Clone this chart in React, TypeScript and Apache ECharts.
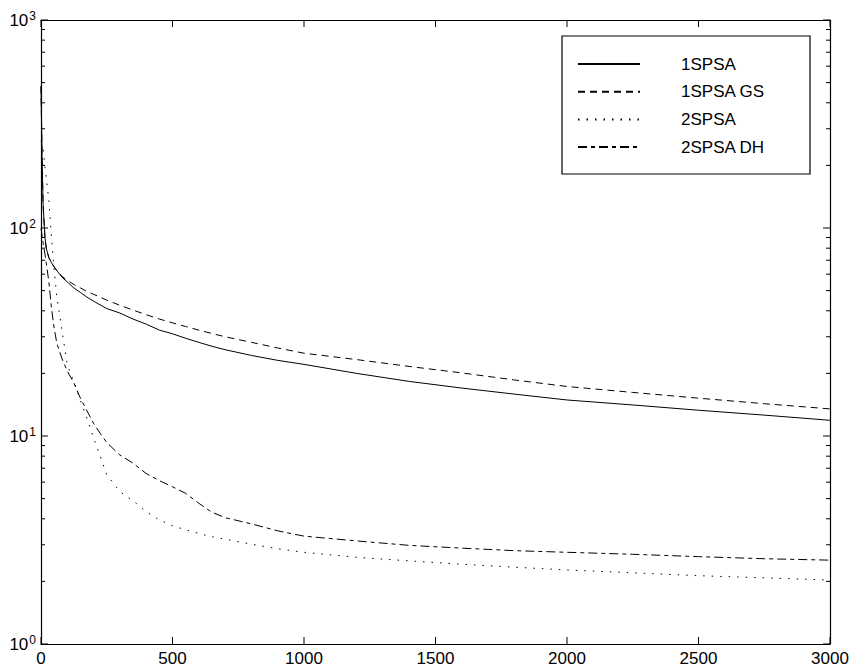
import React, { useEffect, useRef } from "react";
import * as echarts from "echarts";

const iterations = [0, 4, 8, 15, 20, 30, 40, 50, 60, 80, 100, 125, 150, 175, 200, 225, 250, 300, 350, 400, 450, 500, 550, 600, 650, 700, 800, 900, 1000, 1200, 1400, 1600, 1800, 2000, 2250, 2500, 2750, 3000];

const spsa1 = [480, 220, 130, 90, 80, 72, 68, 65, 62.5, 58, 55, 51.5, 49, 46.5, 44.5, 42.7, 41, 39, 36.5, 34.5, 32.3, 31.0, 29.5, 28.2, 27.0, 26.0, 24.4, 23.1, 22.1, 20.0, 18.3, 17.0, 15.9, 14.9, 14.1, 13.3, 12.6, 11.9];

const spsa1GS = [480, 220, 130, 90, 80, 72, 68, 65, 62.5, 58.5, 56, 53.5, 51.5, 49.5, 48, 46.5, 45, 42.5, 40.3, 38.3, 36.5, 35, 33.6, 32.3, 31.1, 30.0, 28.2, 26.5, 25.0, 23.3, 21.6, 20.1, 18.6, 17.3, 16.2, 15.2, 14.3, 13.5];

const spsa2 = [260, 255, 243, 196, 175, 135, 90, 63, 47, 32, 22, 18.2, 14.8, 12.1, 9.8, 8.0, 6.5, 5.4, 4.88, 4.33, 3.95, 3.7, 3.54, 3.4, 3.28, 3.19, 3.02, 2.87, 2.76, 2.61, 2.51, 2.42, 2.34, 2.27, 2.2, 2.13, 2.08, 2.03];

const spsa2DH = [100, 92, 85, 75, 68, 55, 41, 33, 28, 23.5, 20.5, 18, 15.2, 13.2, 11.5, 10.3, 9.3, 8.1, 7.4, 6.6, 6.1, 5.7, 5.3, 4.75, 4.3, 4.05, 3.78, 3.5, 3.3, 3.13, 2.98, 2.89, 2.81, 2.76, 2.7, 2.63, 2.57, 2.53];

const seriesNames = ["1SPSA", "1SPSA GS", "2SPSA", "2SPSA DH"];
const seriesValues = [spsa1, spsa1GS, spsa2, spsa2DH];
const seriesDash: (string | number[])[] = ["solid", [7, 5], [1.5, 7], [9, 4, 4, 4]];

const X_MIN = 0;
const X_MAX = 3000;
const Y_MIN = 1;
const Y_MAX = 1000;
const xTicks = [0, 500, 1000, 1500, 2000, 2500, 3000];
const yMajor = [1, 10, 100, 1000];
const yMinor: number[] = [];
[1, 10, 100].forEach((d) => {
  for (let k = 2; k <= 9; k++) yMinor.push(d * k);
});

const FONT = "'Liberation Sans', Arial, Helvetica, sans-serif";
const MAJOR_LEN = 7;
const MINOR_LEN = 4;

export default function App() {
  const ref = useRef<HTMLDivElement>(null);

  useEffect(() => {
    if (!ref.current) return;
    const chart = echarts.init(ref.current, undefined, { renderer: "svg" });

    // tick table: [kind(0=x,1=y), value, length]
    const tickData: number[][] = [
      ...xTicks.map((v) => [0, v, MAJOR_LEN]),
      ...yMajor.map((v) => [1, v, MAJOR_LEN]),
      ...yMinor.map((v) => [1, v, MINOR_LEN]),
    ];

    const tickStyle = { stroke: "#000", lineWidth: 1 };

    const renderTick = (params: any, api: any) => {
      const kind = api.value(0);
      const v = api.value(1);
      const len = api.value(2);
      if (kind === 0) {
        const b = api.coord([v, Y_MIN]);
        const t = api.coord([v, Y_MAX]);
        return {
          type: "group",
          children: [
            { type: "line", shape: { x1: b[0], y1: b[1], x2: b[0], y2: b[1] - len }, style: tickStyle },
            { type: "line", shape: { x1: t[0], y1: t[1], x2: t[0], y2: t[1] + len }, style: tickStyle },
          ],
        };
      }
      const l = api.coord([X_MIN, v]);
      const r = api.coord([X_MAX, v]);
      return {
        type: "group",
        children: [
          { type: "line", shape: { x1: l[0], y1: l[1], x2: l[0] + len, y2: l[1] }, style: tickStyle },
          { type: "line", shape: { x1: r[0], y1: r[1], x2: r[0] - len, y2: r[1] }, style: tickStyle },
        ],
      };
    };

    const xCommon = {
      type: "value" as const,
      min: X_MIN,
      max: X_MAX,
      interval: 500,
      splitLine: { show: false },
      axisLine: { show: true, onZero: false, lineStyle: { color: "#000", width: 1.2 } },
      axisTick: { show: false },
    };

    const yCommon = {
      type: "log" as const,
      logBase: 10,
      min: Y_MIN,
      max: Y_MAX,
      splitLine: { show: false },
      axisLine: { show: true, onZero: false, lineStyle: { color: "#000", width: 1.2 } },
      axisTick: { show: false },
    };

    const option: any = {
      animation: false,
      backgroundColor: "#fff",
      grid: { left: 41, right: 23, top: 20, bottom: 25, containLabel: false },
      xAxis: [
        {
          ...xCommon,
          position: "bottom",
          axisLabel: {
            show: true,
            color: "#000",
            fontSize: 17,
            fontFamily: FONT,
            margin: 6,
            formatter: (v: number) => String(v),
          },
        },
        {
          ...xCommon,
          position: "top",
          axisLabel: { show: false },
        },
      ],
      yAxis: [
        {
          ...yCommon,
          position: "left",
          axisLabel: {
            show: true,
            customValues: yMajor,
            margin: 5,
            formatter: (v: number) => `{b|10}{s|${Math.round(Math.log10(v))}}`,
            rich: {
              b: { fontSize: 17, fontFamily: FONT, color: "#000", lineHeight: 20 },
              s: { fontSize: 12, fontFamily: FONT, color: "#000", verticalAlign: "top", lineHeight: 12, padding: [0, 0, 6, 1] },
            },
          },
        },
        {
          ...yCommon,
          position: "right",
          axisLabel: { show: false },
        },
      ],
      legend: {
        show: true,
        orient: "vertical",
        left: 577,
        top: 55.5,
        padding: 0,
        itemWidth: 62,
        itemHeight: 14,
        itemGap: 10.7,
        selectedMode: false,
        z: 6,
        itemStyle: { opacity: 0 },
        textStyle: { color: "#000", fontSize: 17, fontFamily: FONT, padding: [0, 0, 0, 36] },
        data: seriesNames,
      },
      graphic: [
        {
          type: "rect",
          z: 5,
          shape: { x: 562, y: 36, width: 248, height: 138 },
          style: { fill: "#fff", stroke: "#000", lineWidth: 1.2 },
        },
      ],
      series: [
        ...seriesNames.map((name, i) => ({
          name,
          type: "line",
          xAxisIndex: 0,
          yAxisIndex: 0,
          symbol: "none",
          showSymbol: false,
          smooth: false,
          color: "#000",
          lineStyle: { color: "#000", width: 1, type: seriesDash[i] },
          data: iterations.map((x, j) => [x, seriesValues[i][j]]),
          z: 2,
        })),
        {
          name: "axis ticks",
          type: "custom",
          xAxisIndex: 0,
          yAxisIndex: 0,
          silent: true,
          clip: false,
          z: 3,
          renderItem: renderTick,
          encode: { x: 1, y: 1 },
          data: tickData,
        },
      ],
    };

    chart.setOption(option);
    return () => chart.dispose();
  }, []);

  return (
    <div
      ref={ref}
      style={{ position: "absolute", left: 0, top: 0, width: 853, height: 669, background: "#fff" }}
    />
  );
}
